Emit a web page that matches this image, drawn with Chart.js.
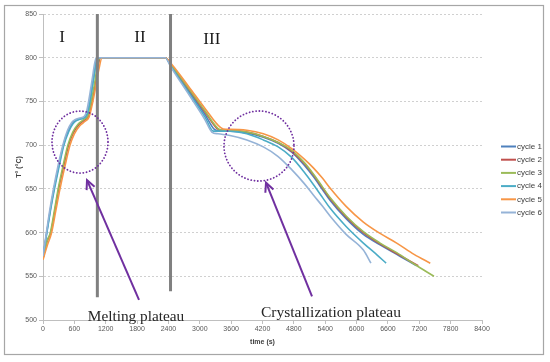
<!DOCTYPE html>
<html><head><meta charset="utf-8">
<script src="https://cdn.jsdelivr.net/npm/chart.js@4.4.1/dist/chart.umd.min.js"></script>
<style>html,body{margin:0;padding:0;background:#fff;}#wrap{width:550px;height:362px;}</style>
</head><body><div id="wrap"><canvas id="c" width="550" height="362"></canvas></div>
<script>
// ---- data (time in s, temperature in °C) ----
const cycleNames = ['cycle 1','cycle 2','cycle 3','cycle 4','cycle 5','cycle 6'];
const cycleColors = ['#4F81BD','#C0504D','#9BBB59','#4BACC6','#F79646','#95B3D7'];

const c1Time = [0,70,140,210,300,390,480,560,620,700,800,850,900,950,1000,1035,2340,2460,2800,3100,3280,3400,3578,3900,4216,4500,4759,5000,5173,5350,5492,5800,6130,6450,6768,7000,7150];
const c1Temp = [572,600,626,650,676,700,716,725,728,730,732,736,750,770,789,800,800,790,761,735,718,716,716,714,709,702,692,677,664,649,637,616,598,586,575,567,562];

const c2Time = [0,80,150,230,300,400,490,580,680,780,870,930,990,1050,1100,2340,2460,2800,3100,3330,3450,3578,3900,4216,4500,4759,5000,5173,5350,5492,5800,6130,6450,6768,7000,7180];
const c2Temp = [570,590,600,626,650,677,700,714,723,728,733,748,767,789,800,800,791,763,738,719,717,717,715,710,703,693,679,666,651,639,618,600,587,576,568,562];

const c3Time = [0,80,140,220,290,385,475,570,670,770,860,920,980,1040,1090,2340,2460,2800,3100,3350,3460,3578,3900,4216,4500,4759,5000,5173,5350,5492,5800,6130,6450,6768,7100,7481];
const c3Temp = [571,591,600,626,650,677,700,715,724,729,734,749,768,790,800,800,791,764,739,719,717,717,715,710,703,694,680,667,652,640,619,601,588,577,564,550];

const c4Time = [0,75,145,220,310,400,490,570,640,720,810,860,910,960,1010,1040,2340,2450,2800,3100,3260,3400,3578,3900,4216,4500,4759,5000,5173,5350,5492,5800,6130,6400,6565];
const c4Temp = [572,600,626,650,676,700,715,724,728,730,732,738,754,773,792,800,800,790,759,732,716,716,716,713,706,698,686,669,655,640,628,607,588,574,565];

const c5Time = [0,80,165,245,325,420,517,600,700,800,880,940,1000,1070,1130,2340,2470,2800,3100,3400,3500,3578,3900,4216,4500,4759,5000,5173,5350,5492,5800,6130,6450,6768,7100,7410];
const c5Temp = [569,585,600,625,650,676,700,713,722,727,732,746,764,787,800,800,792,766,742,720,718,718,717,713,706,696,684,674,662,651,630,612,599,588,575,565];

const c6Time = [0,65,130,200,290,380,470,550,610,700,790,840,890,940,990,1020,2340,2450,2800,3100,3230,3350,3578,3900,4216,4500,4759,5000,5173,5350,5492,5800,6130,6275];
const c6Temp = [573,600,626,650,677,700,717,726,729,731,733,740,756,775,794,800,800,789,757,729,715,713,711,706,698,687,672,656,643,630,619,598,580,565];

const cycleTimes = [c1Time,c2Time,c3Time,c4Time,c5Time,c6Time];
const cycleTemps = [c1Temp,c2Temp,c3Temp,c4Temp,c5Temp,c6Temp];

const xMin = 0, xMax = 8400, xStep = 600;
const yMin = 500, yMax = 850, yStep = 50;
const xTitle = 'time (s)';
const yTitle = 'T° (°C)';

const phaseLines = [{t:1040, bottom:526}, {t:2440, bottom:533}];
const phaseLabels = [{text:'I', t:364, T:823}, {text:'II', t:1856, T:823}, {text:'III', t:3230, T:821}];
const circles = [{t:708, T:703.5, rx:28, ry:31}, {t:4133, T:699, rx:35, ry:35}];
const arrows = [{t0:1837, T0:523, t1:842, T1:660}, {t0:5147, T0:527, t1:4267, T1:657}];
const notes = [{text:'Melting plateau', t:1780, T:498.8, size:15.3}, {text:'Crystallization plateau', t:5510, T:503.5, size:15.5}];

const datasets = cycleNames.map((name, i) => ({
  label: name,
  data: cycleTimes[i].map((t, k) => ({x: t, y: cycleTemps[i][k]})),
  borderColor: cycleColors[i],
  backgroundColor: cycleColors[i],
  borderWidth: 1.6,
  pointRadius: 0,
  cubicInterpolationMode: 'monotone',
  order: cycleNames.length - i
}));

const deco = {
  id: 'deco',
  afterDraw(chart) {
    const ctx = chart.ctx, xs = chart.scales.x, ys = chart.scales.y, ca = chart.chartArea;
    ctx.save();
    // frame
    ctx.strokeStyle = '#a6a6a6'; ctx.lineWidth = 1.2;
    ctx.strokeRect(4.5, 5.5, 539, 349);
    // phase lines
    ctx.strokeStyle = '#808080'; ctx.lineWidth = 3;
    phaseLines.forEach(p => {
      const x = xs.getPixelForValue(p.t);
      ctx.beginPath(); ctx.moveTo(x, ca.top); ctx.lineTo(x, ys.getPixelForValue(p.bottom)); ctx.stroke();
    });
    // roman numerals
    ctx.fillStyle = '#1a1a1a'; ctx.font = '17px "Liberation Serif"';
    ctx.textAlign = 'center'; ctx.textBaseline = 'middle';
    phaseLabels.forEach(l => ctx.fillText(l.text, xs.getPixelForValue(l.t), ys.getPixelForValue(l.T)));
    // dotted circles
    ctx.strokeStyle = '#7030A0'; ctx.lineWidth = 1.8; ctx.lineCap = 'round';
    ctx.setLineDash([0.1, 3.2]);
    circles.forEach(c => {
      ctx.beginPath();
      ctx.ellipse(xs.getPixelForValue(c.t), ys.getPixelForValue(c.T), c.rx, c.ry, 0, 0, Math.PI*2);
      ctx.stroke();
    });
    ctx.setLineDash([]);
    // arrows
    ctx.strokeStyle = '#7030A0'; ctx.lineWidth = 2; ctx.lineCap = 'butt';
    arrows.forEach(a => {
      const x0 = xs.getPixelForValue(a.t0), y0 = ys.getPixelForValue(a.T0);
      const x1 = xs.getPixelForValue(a.t1), y1 = ys.getPixelForValue(a.T1);
      const ang = Math.atan2(y1 - y0, x1 - x0), h = 10, sp = 0.45;
      ctx.beginPath(); ctx.moveTo(x0, y0); ctx.lineTo(x1, y1); ctx.stroke();
      ctx.beginPath();
      ctx.moveTo(x1 - h*Math.cos(ang - sp), y1 - h*Math.sin(ang - sp));
      ctx.lineTo(x1, y1);
      ctx.lineTo(x1 - h*Math.cos(ang + sp), y1 - h*Math.sin(ang + sp));
      ctx.stroke();
    });
    // notes
    ctx.fillStyle = '#262626';
    ctx.textAlign = 'center'; ctx.textBaseline = 'alphabetic';
    notes.forEach(n => { ctx.font = n.size + 'px "Liberation Serif"'; ctx.fillText(n.text, xs.getPixelForValue(n.t), ys.getPixelForValue(n.T)); });
    // legend
    ctx.font = '8px "Liberation Sans"'; ctx.textAlign = 'left'; ctx.textBaseline = 'middle';
    chart.data.datasets.forEach((d, i) => {
      const y = 146.5 + i * 13.2, x = ca.right + 19;
      ctx.strokeStyle = d.borderColor; ctx.lineWidth = 2;
      ctx.beginPath(); ctx.moveTo(x, y); ctx.lineTo(x + 15, y); ctx.stroke();
      ctx.fillStyle = '#404040';
      ctx.fillText(d.label, x + 16, y);
    });
    ctx.restore();
  }
};

new Chart(document.getElementById('c'), {
  type: 'line',
  data: { datasets },
  plugins: [deco],
  options: {
    responsive: false, animation: false,
    layout: { padding: { left: 8, right: 68, top: 14, bottom: 12 } },
    plugins: { legend: { display: false }, tooltip: { enabled: false } },
    scales: {
      x: {
        type: 'linear', min: xMin, max: xMax,
        ticks: { stepSize: xStep, font: { size: 7, family: 'Liberation Sans' }, color: '#595959', padding: 1, maxRotation: 0,
                 callback: v => String(v) },
        grid: { drawOnChartArea: false, tickLength: 4, color: '#bfbfbf' },
        border: { color: '#bfbfbf' },
        title: { display: true, text: xTitle, font: { size: 7, weight: 'bold', family: 'Liberation Sans' }, color: '#404040', padding: { top: 0, bottom: 4 } },
        afterFit(s) { s.height = 30; }
      },
      y: {
        min: yMin, max: yMax,
        ticks: { stepSize: yStep, font: { size: 7, family: 'Liberation Sans' }, color: '#595959', padding: 2,
                 callback: v => String(v) },
        grid: { color: '#d0d0d0', tickLength: 4, tickColor: '#bfbfbf', tickBorderDash: [] },
        border: { color: '#bfbfbf', dash: [2, 2] },
        title: { display: true, text: yTitle, font: { size: 7, weight: 'bold', family: 'Liberation Sans' }, color: '#404040', padding: { top: 7, bottom: 0 } },
        afterFit(s) { s.width = 35; }
      }
    }
  }
});
</script>
</body></html>
